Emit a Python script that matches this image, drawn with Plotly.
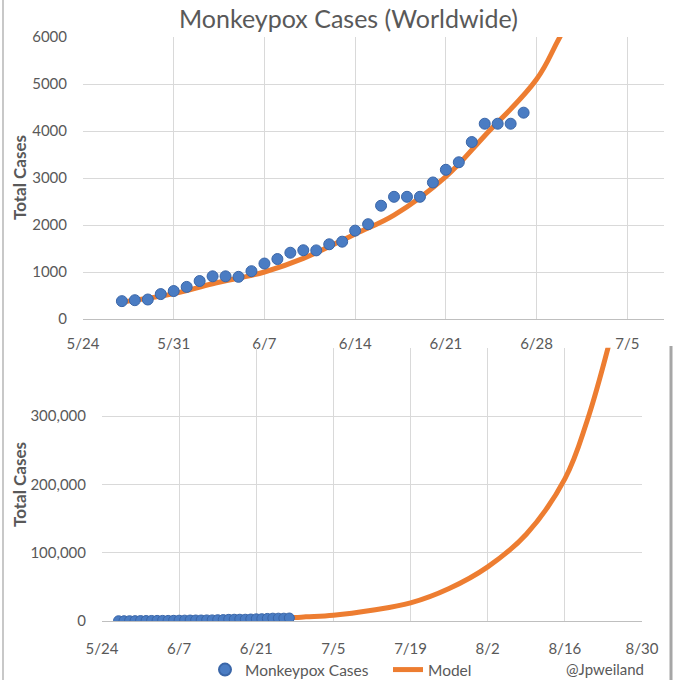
import plotly.graph_objects as go
import pandas as pd

# ---------------- data ----------------
case_dates = pd.date_range("2022-05-27", periods=32, freq="D").strftime("%Y-%m-%d").tolist()
case_values = [380, 400, 415, 530, 595, 683, 808, 908, 908, 897, 1017, 1180, 1276, 1410,
               1463, 1460, 1590, 1645, 1880, 2017, 2410, 2600, 2600, 2600, 2905, 3175,
               3335, 3765, 4155, 4155, 4155, 4390]

model_dates = ["2022-05-27", "2022-05-31", "2022-06-03", "2022-06-07", "2022-06-10",
               "2022-06-14", "2022-06-17", "2022-06-21", "2022-06-24", "2022-06-28",
               "2022-06-30", "2022-07-05", "2022-07-12", "2022-07-19", "2022-07-26",
               "2022-08-02", "2022-08-09", "2022-08-16", "2022-08-20", "2022-08-24"]
model_values = [360, 540, 750, 1000, 1290, 1810, 2210, 3030, 3900, 5100, 6100,
                8400, 15700, 26400, 47500, 79200, 127000, 208000, 292000, 405000]

top_yticks = [0, 1000, 2000, 3000, 4000, 5000, 6000]
bottom_yticks = [0, 100000, 200000, 300000]

TITLE = "Monkeypox Cases (Worldwide)"
CASES_NAME = "Monkeypox Cases"
MODEL_NAME = "Model"
Y_TITLE = "Total Cases"
CREDIT = "@Jpweiland"

# ---------------- style ----------------
W = H = 680
FONT = "Lato, 'Open Sans', sans-serif"
GRAY_TXT = "#595959"
GRID = "#d9d9d9"
ORANGE = "#ED7D31"
BLUE = "#4A7CC3"
BLUE_EDGE = "#3A66A8"


def px_x(p):
    return p / W


def px_y(p):
    return 1 - p / H


fig = go.Figure()

# top chart
fig.add_trace(go.Scatter(x=model_dates, y=model_values, mode="lines", name=MODEL_NAME,
                         line=dict(color=ORANGE, width=5, shape="spline", smoothing=1.1),
                         xaxis="x", yaxis="y", showlegend=False, hoverinfo="skip"))
fig.add_trace(go.Scatter(x=case_dates, y=case_values, mode="markers", name=CASES_NAME,
                         marker=dict(color=BLUE, size=11, line=dict(color=BLUE_EDGE, width=1)),
                         xaxis="x", yaxis="y", showlegend=False))
# bottom chart
fig.add_trace(go.Scatter(x=model_dates, y=model_values, mode="lines", name=MODEL_NAME,
                         line=dict(color=ORANGE, width=5, shape="spline", smoothing=1.1),
                         xaxis="x2", yaxis="y2", legendrank=2))
fig.add_trace(go.Scatter(x=case_dates, y=case_values, mode="markers", name=CASES_NAME,
                         marker=dict(color=BLUE, size=10, line=dict(color=BLUE_EDGE, width=1)),
                         xaxis="x2", yaxis="y2", legendrank=1))

tickfont = dict(family=FONT, size=15, color=GRAY_TXT)

fig.update_layout(
    width=W, height=H,
    margin=dict(l=0, r=0, t=0, b=0, autoexpand=False),
    paper_bgcolor="white", plot_bgcolor="white",
    font=dict(family=FONT, color=GRAY_TXT),
    xaxis=dict(domain=[px_x(83), px_x(664)], type="date",
               range=["2022-05-24", "2022-07-07 20:00"],
               tick0="2022-05-24", dtick=7 * 86400000, tickformat="%-m/%-d",
               showgrid=True, gridcolor=GRID, gridwidth=1.3,
               showline=True, linecolor="#bfbfbf", linewidth=1.3,
               ticks="", tickfont=tickfont, ticklabelstandoff=11, zeroline=False,
               anchor="y", automargin=False),
    yaxis=dict(domain=[px_y(319), px_y(37)], range=[0, 6000],
               tickvals=top_yticks, tickformat="d",
               showgrid=True, gridcolor=GRID, gridwidth=1.3,
               showline=False, zeroline=False, ticks="",
               tickfont=tickfont, ticklabelstandoff=15, anchor="x", automargin=False),
    xaxis2=dict(domain=[px_x(102), px_x(642)], type="date",
                range=["2022-05-24", "2022-08-30"],
                tick0="2022-05-24", dtick=14 * 86400000, tickformat="%-m/%-d",
                showgrid=True, gridcolor=GRID, gridwidth=1.3,
                showline=True, linecolor="#bfbfbf", linewidth=1.3,
                ticks="", tickfont=tickfont, ticklabelstandoff=14, zeroline=False,
                anchor="y2", automargin=False),
    yaxis2=dict(domain=[px_y(621), px_y(347.7)], range=[0, 400000],
                tickvals=bottom_yticks, tickformat=",",
                showgrid=True, gridcolor=GRID, gridwidth=1.3,
                showline=False, zeroline=False, ticks="",
                tickfont=tickfont, ticklabelstandoff=15, anchor="x2", automargin=False),
    legend=dict(orientation="h", x=px_x(205), y=px_y(670), xanchor="left", yanchor="middle",
                font=dict(family=FONT, size=15.5, color=GRAY_TXT),
                bgcolor="rgba(0,0,0,0)", entrywidth=138, itemsizing="constant"),
    showlegend=True,
)

fig.add_annotation(text=TITLE, xref="paper", yref="paper", x=px_x(349), y=px_y(18),
                   showarrow=False, font=dict(family=FONT, size=25, color=GRAY_TXT),
                   xanchor="center", yanchor="middle")
fig.add_annotation(text="<b>" + Y_TITLE + "</b>", xref="paper", yref="paper",
                   x=px_x(20), y=px_y(178), textangle=-90, showarrow=False,
                   font=dict(family=FONT, size=17, color=GRAY_TXT),
                   xanchor="center", yanchor="middle")
fig.add_annotation(text="<b>" + Y_TITLE + "</b>", xref="paper", yref="paper",
                   x=px_x(19), y=px_y(485), textangle=-90, showarrow=False,
                   font=dict(family=FONT, size=17, color=GRAY_TXT),
                   xanchor="center", yanchor="middle")
fig.add_annotation(text=CREDIT, xref="paper", yref="paper", x=px_x(605), y=px_y(669),
                   showarrow=False, font=dict(family=FONT, size=15, color=GRAY_TXT),
                   xanchor="center", yanchor="middle")

# screenshot borders
fig.add_shape(type="line", xref="paper", yref="paper", x0=px_x(3), x1=px_x(3), y0=0, y1=1,
              line=dict(color="#c8c8c8", width=2))
fig.add_shape(type="line", xref="paper", yref="paper", x0=px_x(671), x1=px_x(671),
              y0=0, y1=px_y(346), line=dict(color="#a6a6a6", width=3))

fig.write_html("out.html", config={"displayModeBar": False})

# remove the default page margin so the figure sits at the window's top-left corner
with open("out.html", "r", encoding="utf-8") as f:
    html = f.read()
html = html.replace("<head>", "<head><style>html,body{margin:0;padding:0;overflow:hidden;}</style>", 1)
with open("out.html", "w", encoding="utf-8") as f:
    f.write(html)
